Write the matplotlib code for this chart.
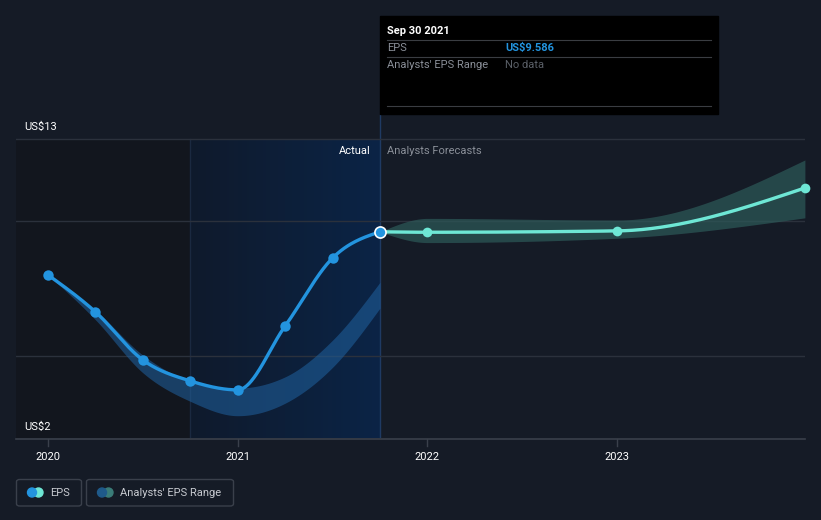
import numpy as np
import matplotlib.pyplot as plt
from matplotlib.colors import LinearSegmentedColormap
from matplotlib.patches import FancyBboxPatch, Rectangle, Ellipse

plt.rcParams['font.family'] = ['Roboto', 'DejaVu Sans']

# data
eps_x = [2020.0, 2020.25, 2020.5, 2020.75, 2021.0, 2021.25, 2021.5, 2021.75]
eps_y = [8.0, 6.64, 4.87, 4.10, 3.77, 6.12, 8.62, 9.586]
hist_hi = [8.0, 6.7, 5.05, 4.1, 3.84, 4.25, 5.6, 7.73]
hist_lo = [8.0, 6.35, 4.4, 3.35, 2.82, 3.28, 4.6, 6.78]

fc_x = [2021.75, 2022.0, 2023.0, 2023.99]
fc_y = [9.586, 9.57, 9.62, 11.2]
fc_hi = [9.586, 10.08, 10.02, 12.23]
fc_lo = [9.586, 9.19, 9.35, 10.1]

year_ticks = [2020, 2021, 2022, 2023]

BG = '#151b26'
BLUE = '#2394df'
TEAL = '#6ee7d5'
GRID = '#2b313c'


def monotone(x, y, n=300):
    # d3 style monotone cubic
    x = np.asarray(x, float)
    y = np.asarray(y, float)
    h = np.diff(x)
    s = np.diff(y) / h
    m = np.zeros(len(x))
    for i in range(1, len(x) - 1):
        p = (s[i - 1] * h[i] + s[i] * h[i - 1]) / (h[i - 1] + h[i])
        m[i] = (np.sign(s[i - 1]) + np.sign(s[i])) * min(abs(s[i - 1]), abs(s[i]), 0.5 * abs(p))
    m[0] = (3 * s[0] - m[1]) / 2
    m[-1] = (3 * s[-1] - m[-2]) / 2
    xs, ys = [], []
    for i in range(len(x) - 1):
        t = np.linspace(0, 1, n // (len(x) - 1))
        h00 = 2 * t**3 - 3 * t**2 + 1
        h10 = t**3 - 2 * t**2 + t
        h01 = -2 * t**3 + 3 * t**2
        h11 = t**3 - t**2
        xs.append(x[i] + t * h[i])
        ys.append(h00 * y[i] + h10 * h[i] * m[i] + h01 * y[i + 1] + h11 * h[i] * m[i + 1])
    return np.concatenate(xs), np.concatenate(ys)


W, H = 821, 520
fig = plt.figure(figsize=(W / 100, H / 100), dpi=100, facecolor=BG)

# axes: pixel x 16..805, pixel y 115..438
ax = fig.add_axes([16 / W, (H - 438) / H, (805 - 16) / W, (438 - 115) / H])
ax.set_facecolor(BG)
x0 = 2020 + (16 - 48) / 189.7
x1 = 2020 + (805 - 48) / 189.7
ymax = 2 + (438 - 115) / 27.18
ax.set_xlim(x0, x1)
ax.set_ylim(2, ymax)
for sp in ax.spines.values():
    sp.set_visible(False)
ax.set_xticks([])
ax.set_yticks([])

# past / actual shading
ax.axvspan(x0, 2020.75, ymin=0, ymax=(13 - 2) / (ymax - 2), color='#12161e', lw=0, zorder=0)
cmap = LinearSegmentedColormap.from_list('act', ['#0f1a2c', '#0b2446'])
ax.imshow(np.linspace(0, 1, 100).reshape(1, -1), extent=[2020.75, 2021.75, 2, 13], aspect='auto',
          cmap=cmap, zorder=0.5)
ax.plot([2020.75, 2020.75], [2, 13], color='#1a2940', lw=1, zorder=0.6)
ax.plot([2021.75, 2021.75], [2, ymax], color='#1f3a63', lw=1, zorder=0.6)

# grid
for gv in [5, 10, 13]:
    ax.axhline(gv, color=GRID, lw=1, zorder=1)
ax.axhline(2 - 0.04, color='#3a404b', lw=1.2, zorder=1, clip_on=False)

# bands
bx, bh = monotone(eps_x, hist_hi)
_, bl = monotone(eps_x, hist_lo)
ax.fill_between(bx, bl, bh, color='#2062a0', alpha=0.55, lw=0, zorder=2)
fx, fh = monotone(fc_x, fc_hi)
_, fl = monotone(fc_x, fc_lo)
ax.fill_between(fx, fl, fh, color='#2d5a59', alpha=0.7, lw=0, zorder=2)

# lines
ex, ey = monotone(eps_x, eps_y)
ax.plot(ex, ey, color=BLUE, lw=2.4, zorder=3, solid_capstyle='round')
ax.plot(eps_x[:-1], eps_y[:-1], 'o', color=BLUE, ms=7.5, mew=0, zorder=4)
gx, gy = monotone(fc_x, fc_y)
ax.plot(gx, gy, color=TEAL, lw=2.4, zorder=3)
ax.plot(fc_x[1:], fc_y[1:], 'o', color=TEAL, ms=7, mew=0, zorder=4, clip_on=False)
ax.plot(eps_x[-1], eps_y[-1], 'o', color=BLUE, ms=8, mec='white', mew=1.2, zorder=5)

# x ticks
for yr in year_ticks:
    ax.plot([yr, yr], [2 - 0.04, 2 - 0.3], color='#3a404b', lw=1, clip_on=False)
    ax.text(yr, 2 - 0.5, str(yr), color='white', fontsize=8, ha='center', va='top', clip_on=False)

# y labels
fig.text(24 / W, 1 - 127 / H, 'US$13', color='white', fontsize=8, va='center')
fig.text(24 / W, 1 - 427 / H, 'US$2', color='white', fontsize=8, va='center')

fig.text(371 / W, 1 - 151 / H, 'Actual', color='white', fontsize=8, va='center', ha='right')
fig.text(387 / W, 1 - 151 / H, 'Analysts Forecasts', color='#8a8f98', fontsize=8, va='center')

# tooltip
fig.patches.append(Rectangle((380 / W, 1 - 114 / H), (718 - 380) / W, (114 - 16) / H,
                             transform=fig.transFigure, color='black', zorder=5))
fig.text(387 / W, 1 - 31 / H, 'Sep 30 2021', color='white', fontsize=8, fontweight='bold',
         va='center', zorder=6)
for ly in [40, 57, 106]:
    fig.add_artist(plt.Line2D([387 / W, 711 / W], [1 - ly / H, 1 - ly / H], color='#3a3d42', lw=0.8,
                              transform=fig.transFigure, zorder=6))
fig.text(387 / W, 1 - 48 / H, 'EPS', color='#8a8f98', fontsize=8, va='center', zorder=6)
fig.text(505 / W, 1 - 48 / H, 'US$9.586', color=BLUE, fontsize=8, fontweight='bold', va='center', zorder=6)
fig.text(387 / W, 1 - 65 / H, "Analysts' EPS Range", color='#8a8f98', fontsize=8, va='center', zorder=6)
fig.text(505 / W, 1 - 65 / H, 'No data', color='#5b6068', fontsize=8, va='center', zorder=6)


# legend
def legend_box(xl, xr, label, c1, c2):
    fig.add_artist(FancyBboxPatch((xl / W, 1 - 506 / H), (xr - xl) / W, 26.5 / H,
                                  boxstyle='round,pad=0,rounding_size=0.004',
                                  transform=fig.transFigure, fc=BG, ec='#3a404b', lw=1, zorder=1))
    for dx, c, z in [(6.5, c2, 2), (0, c1, 3)]:
        fig.add_artist(Ellipse(((xl + 15.5 + dx) / W, 1 - 492.5 / H), 9 / W, 9 / H,
                               transform=fig.transFigure, color=c, zorder=z))
    fig.text((xl + 33.5) / W, 1 - 492.5 / H, label, color='#c7cad0', fontsize=8, va='center', zorder=4)


legend_box(16.5, 81.5, 'EPS', BLUE, TEAL)
legend_box(86.5, 233.5, "Analysts' EPS Range", '#1f5a8a', '#3a7c78')

fig.savefig('out.png', dpi=100, facecolor=BG)
